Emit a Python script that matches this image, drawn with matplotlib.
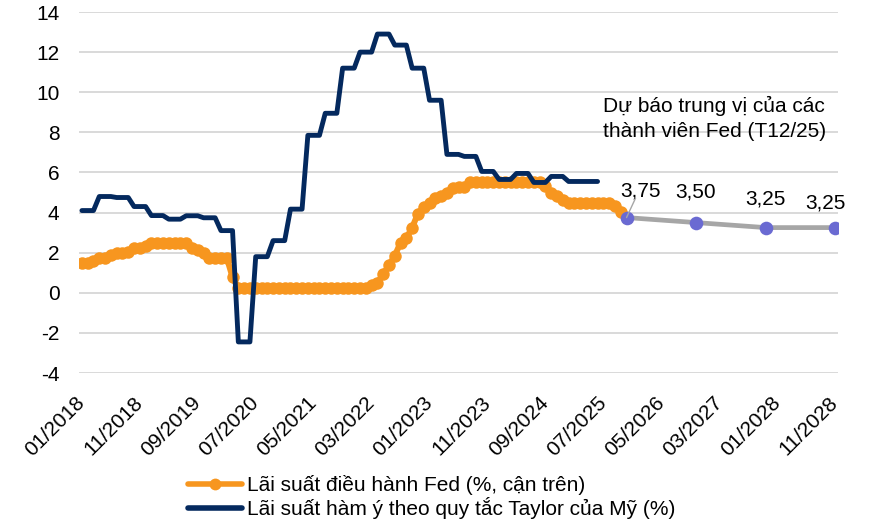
import matplotlib
matplotlib.use("Agg")
import matplotlib.pyplot as plt
import numpy as np
from matplotlib.lines import Line2D

plt.rcParams['font.family'] = ['Liberation Sans', 'DejaVu Sans']

# ---------------- data ----------------
start_month = "01/2018"
tick_labels = ["01/2018", "11/2018", "09/2019", "07/2020", "05/2021", "03/2022", "01/2023",
               "11/2023", "09/2024", "07/2025", "05/2026", "03/2027", "01/2028", "11/2028"]

# Fed funds target upper bound (monthly average, %), 01/2018 -> 11/2025
fed_upper = [
    1.50, 1.50, 1.58, 1.75, 1.75, 1.89, 2.00, 2.00, 2.03, 2.25, 2.25, 2.35,   # 2018
    2.50, 2.50, 2.50, 2.50, 2.50, 2.50, 2.50, 2.25, 2.15, 1.99, 1.75, 1.75,   # 2019
    1.75, 1.75, 0.78, 0.25, 0.25, 0.25, 0.25, 0.25, 0.25, 0.25, 0.25, 0.25,   # 2020
    0.25, 0.25, 0.25, 0.25, 0.25, 0.25, 0.25, 0.25, 0.25, 0.25, 0.25, 0.25,   # 2021
    0.25, 0.25, 0.37, 0.50, 0.94, 1.38, 1.85, 2.50, 2.73, 3.25, 3.95, 4.27,   # 2022
    4.50, 4.74, 4.82, 5.00, 5.23, 5.25, 5.29, 5.50, 5.50, 5.50, 5.50, 5.50,   # 2023
    5.50, 5.50, 5.50, 5.50, 5.50, 5.50, 5.50, 5.50, 5.30, 5.00, 4.81, 4.65,   # 2024
    4.50, 4.50, 4.50, 4.50, 4.50, 4.50, 4.50, 4.50, 4.35, 4.05, 3.75,         # 2025
]

# Taylor-rule implied rate (quarterly, %), Q1/2018 -> Q2/2025
taylor_quarterly = [
    4.10, 4.80, 4.75, 4.30,
    3.85, 3.67, 3.84, 3.74,
    3.10, -2.45, 1.80, 2.60,
    4.17, 7.85, 8.95, 11.20,
    12.00, 12.90, 12.35, 11.20,
    9.60, 6.90, 6.80, 6.05,
    5.65, 5.95, 5.50, 5.80,
    5.55, 5.55,
]

# FOMC median projections (Dec 2025), upper bound
forecast_months = ["11/2025", "11/2026", "11/2027", "11/2028"]
forecast_values = [3.75, 3.50, 3.25, 3.25]
forecast_labels = ["3,75", "3,50", "3,25", "3,25"]

legend_fed = "Lãi suất điều hành Fed (%, cận trên)"
legend_taylor = "Lãi suất hàm ý theo quy tắc Taylor của Mỹ (%)"
note_text = "Dự báo trung vị của các\nthành viên Fed (T12/25)"

ORANGE = "#F7961F"
NAVY = "#04295E"
GREY = "#A6A6A6"
DOT = "#6A6AD2"
FS = 15


def midx(s):
    m, y = s.split("/")
    s0m, s0y = start_month.split("/")
    return (int(y) - int(s0y)) * 12 + int(m) - int(s0m)


# ---------------- figure ----------------
W, H = 869, 524
fig = plt.figure(figsize=(W / 100, H / 100), dpi=100)
ax = fig.add_axes([79 / W, 1 - 373 / H, (838 - 79) / W, (373 - 12) / H])

x_fed = np.arange(len(fed_upper))
ax.plot(x_fed, fed_upper, color=ORANGE, lw=4.3, marker="o", ms=9.0, mec="none",
        solid_capstyle="round", solid_joinstyle="round", zorder=3)

taylor_monthly = np.repeat(taylor_quarterly, 3)
x_tay = np.arange(len(taylor_monthly))
ax.plot(x_tay, taylor_monthly, color=NAVY, lw=3.5, solid_capstyle="round",
        solid_joinstyle="round", zorder=4)

x_fc = [midx(m) for m in forecast_months]
ax.plot(x_fc, forecast_values, color=GREY, lw=3.4, zorder=4, solid_capstyle="round")
ax.plot(x_fc, forecast_values, ls="none", marker="o", ms=9.8, color=DOT, mec="none", zorder=5)

offsets_px = [(14, 27), (0, 31), (0, 29), (-10, 25)]
for i, (xv, yv, lab) in enumerate(zip(x_fc, forecast_values, forecast_labels)):
    dx, dy = offsets_px[i]
    ax.annotate(lab, xy=(xv, yv), xytext=(dx * 0.72, dy * 0.72), textcoords="offset points",
                ha="center", va="center", fontsize=FS, color="#000000", zorder=6)
# leader line from first label to its dot
ax.annotate("", xy=(x_fc[0], forecast_values[0]), xytext=(6.5, 14), textcoords="offset points",
            arrowprops=dict(arrowstyle="-", color="#A6A6A6", lw=1.0, shrinkA=0, shrinkB=0), zorder=6)

ax.set_xlim(-0.5, midx(tick_labels[-1]) + 0.5)
ax.set_ylim(-4, 14)
ax.set_yticks(np.arange(-4, 15, 2))
ax.set_yticklabels([f"{v:d}" for v in range(-4, 15, 2)], fontsize=FS)
ax.set_xticks([midx(t) for t in tick_labels])
ax.set_xticklabels(tick_labels, fontsize=FS, rotation=45, ha="right", va="center",
                   rotation_mode="anchor")
ax.tick_params(axis="both", length=0)
ax.tick_params(axis="y", pad=14)
ax.tick_params(axis="x", pad=19)
ax.grid(axis="y", color="#D9D9D9", lw=1.4)
ax.set_axisbelow(True)
for sp in ax.spines.values():
    sp.set_visible(False)

fig.text(603 / W, 1 - 96 / H, note_text, fontsize=FS, ha="left", va="top", linespacing=1.38)

handles = [
    Line2D([0], [0], color=ORANGE, lw=4.0, marker="o", ms=8.5, mec="none", solid_capstyle="round"),
    Line2D([0], [0], color=NAVY, lw=4.0, solid_capstyle="round"),
]
fig.legend(handles, [legend_fed, legend_taylor], loc="upper left",
           bbox_to_anchor=(188 / W, 1 - 475 / H), frameon=False, fontsize=FS,
           handlelength=2.6, handletextpad=0.25, labelspacing=0.1, borderpad=0,
           borderaxespad=0, numpoints=1)

fig.savefig("out.png", dpi=100)
